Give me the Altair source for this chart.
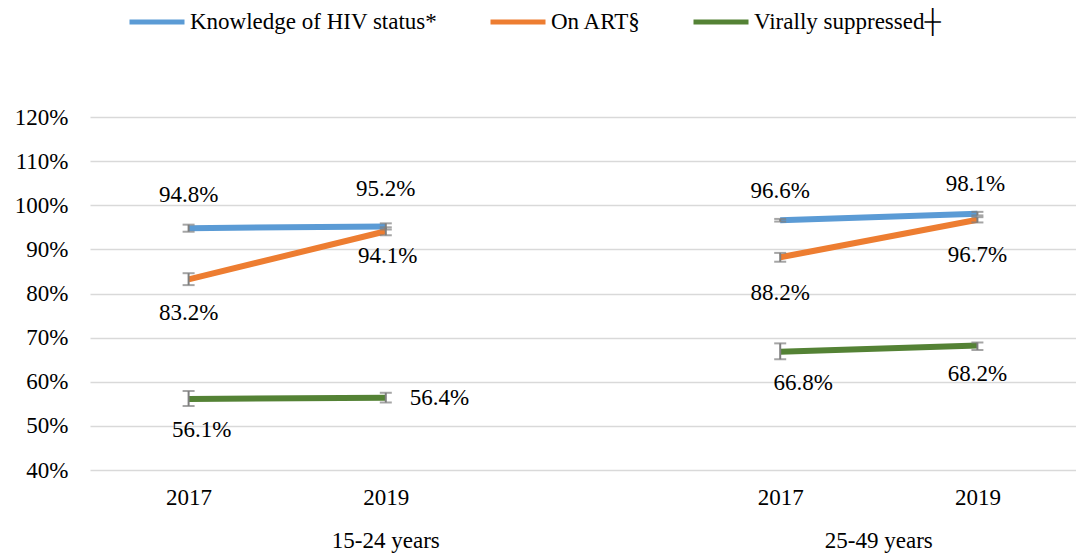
import altair as alt
import pandas as pd

series = ["Knowledge of HIV status*", "On ART§", "Virally suppressed┼"]
colors = ["#5B9BD5", "#ED7D31", "#548235"]
groups = ["15-24 years", "15-24 years", "25-49 years", "25-49 years"]
years = ["2017", "2019", "2017", "2019"]
slots = [0, 1, 3, 4]

knowledge = [94.8, 95.2, 96.6, 98.1]
knowledge_lo = [94.0, 94.5, 96.3, 97.7]
knowledge_hi = [95.6, 95.9, 96.9, 98.5]

on_art = [83.2, 94.1, 88.2, 96.7]
on_art_lo = [81.9, 93.2, 87.2, 96.1]
on_art_hi = [84.6, 95.0, 89.2, 97.3]

viral = [56.1, 56.4, 66.8, 68.2]
viral_lo = [54.5, 55.3, 65.1, 67.2]
viral_hi = [57.9, 57.5, 68.7, 68.9]

group_labels = ["15-24 years", "25-49 years"]
group_slots = [1, 3.5]

rows = []
for s, vals, los, his in [
    (series[0], knowledge, knowledge_lo, knowledge_hi),
    (series[1], on_art, on_art_lo, on_art_hi),
    (series[2], viral, viral_lo, viral_hi),
]:
    for i in range(4):
        rows.append({"series": s, "group": groups[i], "year": years[i], "slot": slots[i],
                     "value": vals[i], "lo": los[i], "hi": his[i], "key": f"{s}|{i}"})
df = pd.DataFrame(rows)
df["label"] = df["value"].map(lambda v: f"{v:.1f}%")

gdf = pd.DataFrame({"slot": group_slots, "label": group_labels})

FONT = "Liberation Serif"
FS = 23
W, H = 986, 353

xscale = alt.Scale(domain=[-0.5, 4.5], nice=False, zero=False)
yscale = alt.Scale(domain=[40, 120], nice=False, zero=False)

x_axis = alt.Axis(values=[0, 1, 3, 4], labelExpr="datum.value == 0 || datum.value == 3 ? '2017' : '2019'",
                  grid=False, domain=False, ticks=False, tickSize=0, title=None,
                  labelFont=FONT, labelFontSize=FS, labelColor="black", labelPadding=16)
y_axis = alt.Axis(values=[40, 50, 60, 70, 80, 90, 100, 110, 120], format="d", labelExpr="datum.label + '%'",
                  grid=True, gridColor="#d9d9d9", gridWidth=1.5, domain=False, ticks=False, tickSize=0,
                  title=None, labelFont=FONT, labelFontSize=FS, labelColor="black", labelPadding=22)


def X():
    return alt.X("slot:Q", scale=xscale, axis=x_axis, title=None)


def Y(field):
    return alt.Y(f"{field}:Q", scale=yscale, axis=y_axis, title=None)


base = alt.Chart(df)

lines = base.mark_line(strokeWidth=6).encode(
    x=X(), y=Y("value"),
    color=alt.Color("series:N", scale=alt.Scale(domain=series, range=colors),
                    legend=alt.Legend(orient="none", legendX=37, legendY=-125, direction="horizontal",
                                      symbolType="stroke", symbolSize=3025, symbolStrokeWidth=5,
                                      labelFont=FONT, labelFontSize=FS, labelColor="black", labelLimit=0,
                                      columnPadding=42, labelOffset=3, title=None)),
    detail="group:N",
)

err_rule = base.mark_rule(color="#7f7f7f", strokeWidth=2).encode(x=X(), y=Y("lo"), y2="hi:Q")
cap_lo = base.mark_tick(color="#7f7f7f", orient="horizontal", size=12, thickness=2).encode(x=X(), y=Y("lo"))
cap_hi = base.mark_tick(color="#7f7f7f", orient="horizontal", size=12, thickness=2).encode(x=X(), y=Y("hi"))

# label placement: (dx, dy, align)
place = {
    f"{series[0]}|0": (0, -33, "center"),
    f"{series[0]}|1": (0, -37, "center"),
    f"{series[1]}|0": (0, 34, "center"),
    f"{series[1]}|1": (2, 25, "center"),
    f"{series[2]}|0": (13, 31, "center"),
    f"{series[2]}|1": (24, 0, "left"),
    f"{series[0]}|2": (0, -29, "center"),
    f"{series[0]}|3": (-2, -30, "center"),
    f"{series[1]}|2": (0, 36, "center"),
    f"{series[1]}|3": (0, 35, "center"),
    f"{series[2]}|2": (23, 31, "center"),
    f"{series[2]}|3": (0, 28, "center"),
}

text_layers = []
for k, (dx, dy, al) in place.items():
    text_layers.append(
        alt.Chart(df[df["key"] == k]).mark_text(
            dx=dx, dy=dy, align=al, baseline="middle", font=FONT, fontSize=FS, color="black"
        ).encode(x=X(), y=Y("value"), text="label:N")
    )

glabels = alt.Chart(gdf).mark_text(baseline="middle", font=FONT, fontSize=FS, color="black").encode(
    x=X(), y=alt.value(H + 71), text="label:N")

chart = alt.layer(lines, err_rule, cap_lo, cap_hi, *text_layers, glabels).properties(
    width=W, height=H, autosize="none",
    padding={"left": 82, "top": 109, "right": 0, "bottom": 84},
).configure(
    background="white",
    view=alt.ViewConfig(stroke=None),
    legend=alt.LegendConfig(labelLimit=0),
)

chart.save("out.html", embed_options={"renderer": "svg", "actions": False})
